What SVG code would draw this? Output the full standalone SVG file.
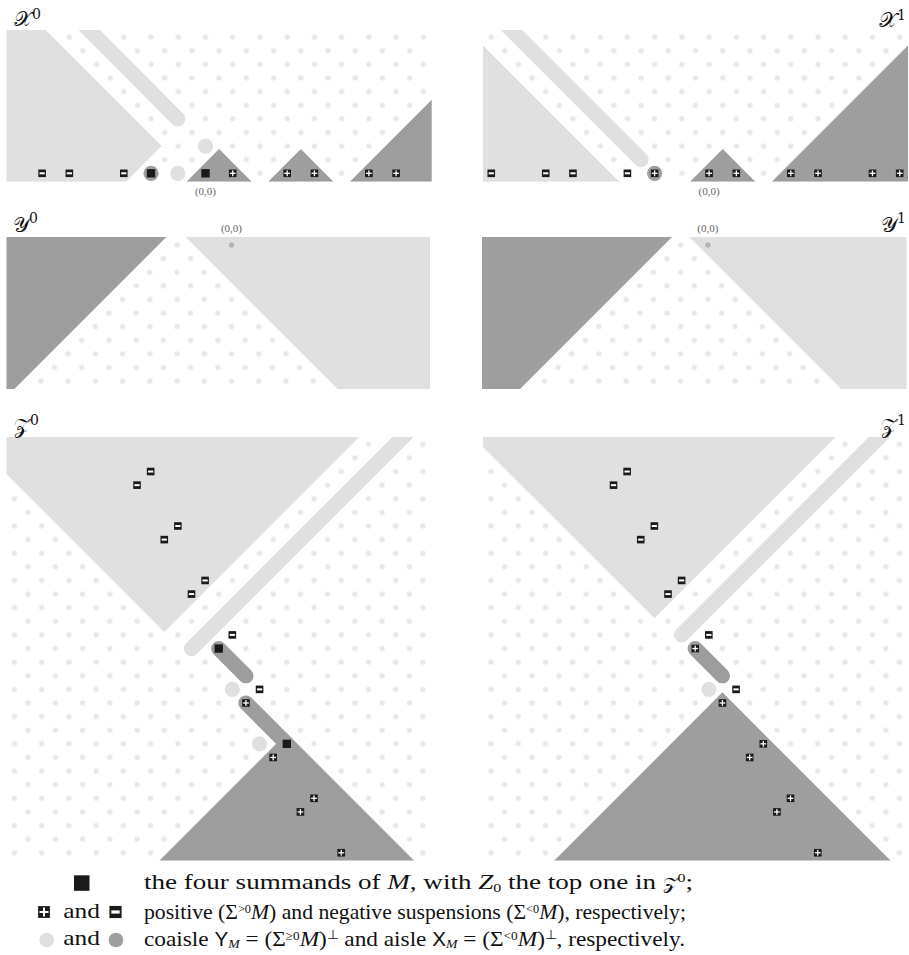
<svg xmlns="http://www.w3.org/2000/svg" xmlns:xlink="http://www.w3.org/1999/xlink" width="909" height="955" viewBox="0 0 909 955">
<style>
.lt{fill:#e0e0e0}
.dk{fill:#9e9e9e}
.ls{stroke:#e0e0e0;stroke-width:15.2;stroke-linecap:round;fill:none}
.ds{stroke:#9e9e9e;stroke-width:15.2;stroke-linecap:round;fill:none}
.dot{fill:#e8e8e8}
.org{fill:#b4b4b4}
.oo{font-family:'Liberation Serif',serif;font-size:11px;fill:#666;text-anchor:middle}
.lab{font-family:'DejaVu Serif','DejaVu Sans','Noto Sans',serif;font-size:21px;fill:#111}
.leg{font-family:'Liberation Serif',serif;font-size:22px;fill:#111}
.it{font-style:italic}
.sf{font-family:'Liberation Sans',sans-serif;font-size:19.5px}
</style>
<defs>
<g id="sq"><rect x="-4.2" y="-4.2" width="8.4" height="8.4" fill="#1a1a1a"/></g>
<g id="pl"><rect x="-3.8" y="-3.8" width="7.6" height="7.6" fill="#1a1a1a"/><rect x="-2.9" y="-0.65" width="5.8" height="1.3" fill="#fff"/><rect x="-0.65" y="-2.9" width="1.3" height="5.8" fill="#fff"/></g>
<g id="mi"><rect x="-3.8" y="-3.8" width="7.6" height="7.6" fill="#1a1a1a"/><rect x="-2.6" y="-1" width="5.2" height="2" fill="#fff"/></g>
<pattern id="pX0" patternUnits="userSpaceOnUse" x="198.6925" y="166.4925" width="27.23" height="27.23"><circle class="dot" cx="6.8075" cy="6.8075" r="2.7"/><circle class="dot" cx="20.4225" cy="20.4225" r="2.7"/></pattern>
<pattern id="pX1" patternUnits="userSpaceOnUse" x="702.2925" y="166.4925" width="27.23" height="27.23"><circle class="dot" cx="6.8075" cy="6.8075" r="2.7"/><circle class="dot" cx="20.4225" cy="20.4225" r="2.7"/></pattern>
<pattern id="pY0" patternUnits="userSpaceOnUse" x="224.6925" y="238.1925" width="27.23" height="27.23"><circle class="dot" cx="6.8075" cy="6.8075" r="2.7"/><circle class="dot" cx="20.4225" cy="20.4225" r="2.7"/></pattern>
<pattern id="pY1" patternUnits="userSpaceOnUse" x="701.0925" y="238.1925" width="27.23" height="27.23"><circle class="dot" cx="6.8075" cy="6.8075" r="2.7"/><circle class="dot" cx="20.4225" cy="20.4225" r="2.7"/></pattern>
<pattern id="pZ0" patternUnits="userSpaceOnUse" x="198.2925" y="437.4925" width="27.23" height="27.23"><circle class="dot" cx="6.8075" cy="6.8075" r="2.7"/><circle class="dot" cx="20.4225" cy="20.4225" r="2.7"/></pattern>
<pattern id="pZ1" patternUnits="userSpaceOnUse" x="674.7925" y="437.4925" width="27.23" height="27.23"><circle class="dot" cx="6.8075" cy="6.8075" r="2.7"/><circle class="dot" cx="20.4225" cy="20.4225" r="2.7"/></pattern>
<clipPath id="cX0"><rect x="6.5" y="30" width="425.2" height="151.7"/></clipPath>
<clipPath id="cX1"><rect x="483" y="30" width="425" height="151.7"/></clipPath>
<clipPath id="cY0"><rect x="6.5" y="237" width="423.5" height="152"/></clipPath>
<clipPath id="cY1"><rect x="482" y="237" width="424.5" height="152"/></clipPath>
<clipPath id="cZ0"><rect x="6.5" y="437" width="425" height="423.6"/></clipPath>
<clipPath id="cZ1"><rect x="483" y="437" width="425" height="423.6"/></clipPath>
</defs>

<g id="panel-X0">
<g clip-path="url(#cX0)">
<rect x="0" y="25" width="440" height="160" fill="url(#pX0)"/>
<polygon class="lt" points="0,30 45.66,30 161.66,146.07 125.99,181.7 0,181.7"/>
<line class="ls" x1="177.77" y1="118.84" x2="42.12" y2="-17.31"/>
<circle class="lt" cx="205.5" cy="146.07" r="7.6"/>
<circle class="lt" cx="177.77" cy="173.3" r="7.6"/>
<circle class="dk" cx="151.04" cy="173.3" r="7.6"/>
<polygon class="dk" points="186.44,181.7 219.12,149.07 251.79,181.7"/>
<polygon class="dk" points="268.13,181.7 300.81,149.07 333.48,181.7"/>
<polygon class="dk" points="349.82,181.7 440,91.52 440,181.7"/>
</g>
<use href="#mi" x="42.12" y="173.3"/>
<use href="#mi" x="69.35" y="173.3"/>
<use href="#mi" x="123.81" y="173.3"/>
<use href="#sq" x="151.04" y="173.3"/>
<use href="#sq" x="205.5" y="173.3"/>
<use href="#pl" x="232.73" y="173.3"/>
<use href="#pl" x="287.19" y="173.3"/>
<use href="#pl" x="314.42" y="173.3"/>
<use href="#pl" x="368.88" y="173.3"/>
<use href="#pl" x="396.11" y="173.3"/>
<text class="oo" x="205.5" y="194.5">(0,0)</text>
<text class="lab" x="14" y="26">𝒳<tspan font-size="14" dy="-7">0</tspan></text>
</g>

<g id="panel-X1">
<g clip-path="url(#cX1)">
<rect x="470" y="25" width="445" height="160" fill="url(#pX1)"/>
<polygon class="lt" points="470,32.46 619.24,181.7 470,181.7"/>
<line class="ls" x1="641.03" y1="159.69" x2="477.72" y2="-3.7"/>
<circle class="dk" cx="654.64" cy="173.3" r="7.6"/>
<polygon class="dk" points="690.04,181.7 722.72,149.07 755.39,181.7"/>
<polygon class="dk" points="771.73,181.7 920,33.43 920,181.7"/>
</g>
<use href="#mi" x="491.26" y="173.3"/>
<use href="#mi" x="545.72" y="173.3"/>
<use href="#mi" x="572.95" y="173.3"/>
<use href="#mi" x="627.41" y="173.3"/>
<use href="#pl" x="654.64" y="173.3"/>
<use href="#pl" x="709.1" y="173.3"/>
<use href="#pl" x="736.33" y="173.3"/>
<use href="#pl" x="790.79" y="173.3"/>
<use href="#pl" x="818.02" y="173.3"/>
<use href="#pl" x="872.48" y="173.3"/>
<use href="#pl" x="899.71" y="173.3"/>
<text class="oo" x="709.1" y="194.5">(0,0)</text>
<text class="lab" x="906" y="27" text-anchor="end">𝒳<tspan font-size="14" dy="-7">1</tspan></text>
</g>

<g id="panel-Y0">
<g clip-path="url(#cY0)">
<rect x="0" y="230" width="440" height="165" fill="url(#pY0)"/>
<polygon class="dk" points="0,237 166.4,237 14.4,389 0,389"/>
<polygon class="lt" points="185.62,237 440,237 440,389 337.62,389"/>
<circle class="org" cx="231.5" cy="245" r="2.7"/>
</g>
<text class="oo" x="231.5" y="232">(0,0)</text>
<text class="lab" x="13" y="232">𝒴<tspan font-size="14" dy="-9">0</tspan></text>
</g>

<g id="panel-Y1">
<g clip-path="url(#cY1)">
<rect x="470" y="230" width="445" height="165" fill="url(#pY1)"/>
<polygon class="dk" points="470,237 672.06,237 520.06,389 470,389"/>
<polygon class="lt" points="689.27,237 920,237 920,389 841.27,389"/>
<circle class="org" cx="707.9" cy="245" r="2.7"/>
</g>
<text class="oo" x="707.9" y="232">(0,0)</text>
<text class="lab" x="906" y="232" text-anchor="end">𝒴<tspan font-size="14" dy="-9">1</tspan></text>
</g>

<g id="panel-Z0">
<g clip-path="url(#cZ0)">
<rect x="0" y="430" width="440" height="440" fill="url(#pZ0)"/>
<polygon class="lt" points="0,437 359.17,437 164.26,631.91 0,467.65"/>
<line class="ls" x1="191.49" y1="648.53" x2="422.94" y2="417.07"/>
<line class="ds" x1="218.72" y1="648.53" x2="245.95" y2="675.76"/>
<circle class="lt" cx="232.33" cy="689.37" r="7.6"/>
<circle class="lt" cx="259.56" cy="743.83" r="7.6"/>
<line class="ds" x1="245.95" y1="702.99" x2="286.79" y2="743.83"/>
<polygon class="dk" points="286.79,733.21 150,870 423.58,870"/>
</g>
<use href="#mi" x="150.64" y="471.53"/>
<use href="#mi" x="137.03" y="485.15"/>
<use href="#mi" x="177.87" y="526.0"/>
<use href="#mi" x="164.26" y="539.6"/>
<use href="#mi" x="205.1" y="580.45"/>
<use href="#mi" x="191.49" y="594.07"/>
<use href="#mi" x="232.33" y="634.91"/>
<use href="#mi" x="259.56" y="689.37"/>
<use href="#sq" x="218.72" y="648.53"/>
<use href="#sq" x="286.79" y="743.83"/>
<use href="#pl" x="245.95" y="702.99"/>
<use href="#pl" x="273.18" y="757.45"/>
<use href="#pl" x="314.02" y="798.29"/>
<use href="#pl" x="300.41" y="811.91"/>
<use href="#pl" x="341.25" y="852.75"/>
<text class="lab" x="14" y="433">𝒵<tspan font-size="14" dy="-8">0</tspan></text>
</g>

<g id="panel-Z1">
<g clip-path="url(#cZ1)">
<rect x="470" y="430" width="445" height="440" fill="url(#pZ1)"/>
<polygon class="lt" points="470,430 842.67,430 654.37,618.3 470,433.93"/>
<line class="ls" x1="681.6" y1="634.91" x2="899.44" y2="417.07"/>
<line class="ds" x1="695.22" y1="648.53" x2="722.45" y2="675.76"/>
<circle class="lt" cx="708.83" cy="689.37" r="7.6"/>
<polygon class="dk" points="722.45,692.37 544.82,870 900.08,870"/>
</g>
<use href="#mi" x="627.14" y="471.53"/>
<use href="#mi" x="613.53" y="485.15"/>
<use href="#mi" x="654.37" y="526.0"/>
<use href="#mi" x="640.76" y="539.6"/>
<use href="#mi" x="681.6" y="580.45"/>
<use href="#mi" x="667.99" y="594.07"/>
<use href="#mi" x="708.83" y="634.91"/>
<use href="#mi" x="736.06" y="689.37"/>
<use href="#pl" x="695.22" y="648.53"/>
<use href="#pl" x="722.45" y="702.99"/>
<use href="#pl" x="763.29" y="743.83"/>
<use href="#pl" x="749.68" y="757.45"/>
<use href="#pl" x="790.52" y="798.29"/>
<use href="#pl" x="776.91" y="811.91"/>
<use href="#pl" x="817.75" y="852.75"/>
<text class="lab" x="906" y="433" text-anchor="end">𝒵<tspan font-size="14" dy="-8">1</tspan></text>
</g>

<g id="connectors"></g>

<g id="legend">
<rect x="74" y="875.3" width="15.5" height="15.5" fill="#1a1a1a"/>
<use href="#pl" transform="translate(44,912) scale(1.55)"/>
<use href="#mi" transform="translate(115.5,912) scale(1.6)"/>
<circle class="lt" cx="46.7" cy="940" r="7.3"/>
<circle class="dk" cx="116" cy="940" r="7.3"/>
<text class="leg" x="63.3" y="917.5" textLength="36.7" lengthAdjust="spacingAndGlyphs">and</text>
<text class="leg" x="63.3" y="945" textLength="36.7" lengthAdjust="spacingAndGlyphs">and</text>
<text class="leg" x="144" y="889" font-size="22" textLength="549" lengthAdjust="spacingAndGlyphs">the four summands of <tspan class="it">M</tspan>, with <tspan class="it">Z</tspan><tspan font-size="13" dy="2.5">0</tspan><tspan dy="-2.5"> the top one in </tspan><tspan font-size="16">𝒵</tspan><tspan font-size="13" dy="-7">0</tspan><tspan dy="7">;</tspan></text>
<text class="leg" x="144" y="918.5" textLength="542" lengthAdjust="spacingAndGlyphs">positive (Σ<tspan font-size="12.5" dy="-6">&gt;0</tspan><tspan class="it" dy="6">M</tspan>) and negative suspensions (Σ<tspan font-size="12.5" dy="-6">&lt;0</tspan><tspan class="it" dy="6">M</tspan>), respectively;</text>
<text class="leg" x="144" y="945.5" textLength="541" lengthAdjust="spacingAndGlyphs">coaisle <tspan class="sf">Y</tspan><tspan class="it" font-size="13" dy="2.5">M</tspan><tspan dy="-2.5"> = (Σ</tspan><tspan font-size="12.5" dy="-6">≥0</tspan><tspan class="it" dy="6">M</tspan>)<tspan font-size="13" dy="-7">⊥</tspan><tspan dy="7"> and aisle </tspan><tspan class="sf">X</tspan><tspan class="it" font-size="13" dy="2.5">M</tspan><tspan dy="-2.5"> = (Σ</tspan><tspan font-size="12.5" dy="-6">&lt;0</tspan><tspan class="it" dy="6">M</tspan>)<tspan font-size="13" dy="-7">⊥</tspan><tspan dy="7">, respectively.</tspan></text>
</g>
</svg>
